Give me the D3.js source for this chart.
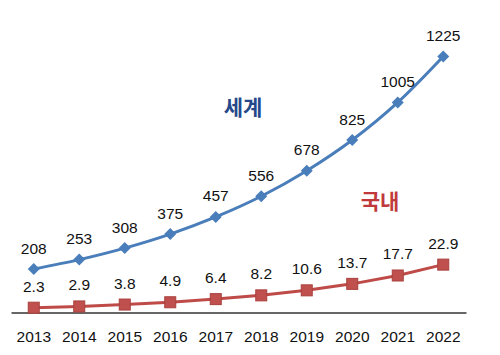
<!DOCTYPE html>
<html>
<head>
<meta charset="utf-8">
<script src="https://cdn.jsdelivr.net/npm/d3@7"></script>
<style>
  html, body { margin: 0; padding: 0; background: #fff; }
  svg { display: block; }
</style>
</head>
<body>
<svg id="chart" width="500" height="355"></svg>
<script>
const years = ["2013","2014","2015","2016","2017","2018","2019","2020","2021","2022"];
const worldValues = [208, 253, 308, 375, 457, 556, 678, 825, 1005, 1225];
const domesticValues = [2.3, 2.9, 3.8, 4.9, 6.4, 8.2, 10.6, 13.7, 17.7, 22.9];
const worldLabels = ["208","253","308","375","457","556","678","825","1005","1225"];
const domesticLabels = ["2.3","2.9","3.8","4.9","6.4","8.2","10.6","13.7","17.7","22.9"];
const worldName = "세계";
const domesticName = "국내";

const svg = d3.select("#chart");
const x = d3.scaleBand().domain(years).range([11, 466]);
const yW = d3.scaleLinear().domain([0, 1400]).range([312.5, 19.8]);
const yD = d3.scaleLinear().domain([0, 140]).range([312.5, 19.8]);
const cx = d => x(d) + x.bandwidth() / 2;

const blue = "#4a7ebb";
const red = "#be4b48";
const numFont = "'Liberation Sans', Arial, sans-serif";

// x axis
const xAxis = d3.axisBottom(x).tickSize(0).tickPadding(0);
const gx = svg.append("g").attr("transform", "translate(0,312.5)").call(xAxis);
gx.select(".domain").attr("stroke", "#333").attr("stroke-width", 1.3);
gx.selectAll("text")
  .attr("font-family", numFont)
  .attr("font-size", "15.5px")
  .attr("fill", "#111")
  .attr("dy", null)
  .attr("y", 29.5);

// world line
const lineW = d3.line().x((d, i) => cx(years[i])).y(d => yW(d)).curve(d3.curveMonotoneX);
svg.append("path").datum(worldValues)
  .attr("d", lineW).attr("fill", "none").attr("stroke", blue).attr("stroke-width", 3);
svg.append("g").selectAll("path").data(worldValues).join("path")
  .attr("d", "M0,-6L6,0L0,6L-6,0Z")
  .attr("transform", (d, i) => `translate(${cx(years[i])},${yW(d)})`)
  .attr("fill", blue);

// domestic line
const lineD = d3.line().x((d, i) => cx(years[i])).y(d => yD(d));
svg.append("path").datum(domesticValues)
  .attr("d", lineD).attr("fill", "none").attr("stroke", red).attr("stroke-width", 3);
svg.append("g").selectAll("rect").data(domesticValues).join("rect")
  .attr("x", (d, i) => cx(years[i]) - 5.5)
  .attr("y", d => yD(d) - 5.5)
  .attr("width", 11).attr("height", 11)
  .attr("fill", "#c0504d").attr("stroke", "#a8403d").attr("stroke-width", 1);

// labels
svg.append("g").selectAll("text").data(worldValues).join("text")
  .attr("x", (d, i) => cx(years[i]))
  .attr("y", d => yW(d) - 15.5)
  .attr("text-anchor", "middle")
  .attr("font-family", numFont).attr("font-size", "15.5px").attr("fill", "#111")
  .text((d, i) => worldLabels[i]);
svg.append("g").selectAll("text").data(domesticValues).join("text")
  .attr("x", (d, i) => cx(years[i]))
  .attr("y", d => yD(d) - 16)
  .attr("text-anchor", "middle")
  .attr("font-family", numFont).attr("font-size", "15.5px").attr("fill", "#111")
  .text((d, i) => domesticLabels[i]);

// series names
svg.append("text").attr("x", 243).attr("y", 115)
  .attr("text-anchor", "middle")
  .attr("font-family", "'Noto Sans CJK KR', sans-serif").attr("font-weight", "bold")
  .attr("font-size", "21px").attr("fill", "#24488a").text(worldName);
svg.append("text").attr("x", 380).attr("y", 209)
  .attr("text-anchor", "middle")
  .attr("font-family", "'Noto Sans CJK KR', sans-serif").attr("font-weight", "bold")
  .attr("font-size", "21px").attr("fill", "#c0393b").text(domesticName);
</script>
</body>
</html>
